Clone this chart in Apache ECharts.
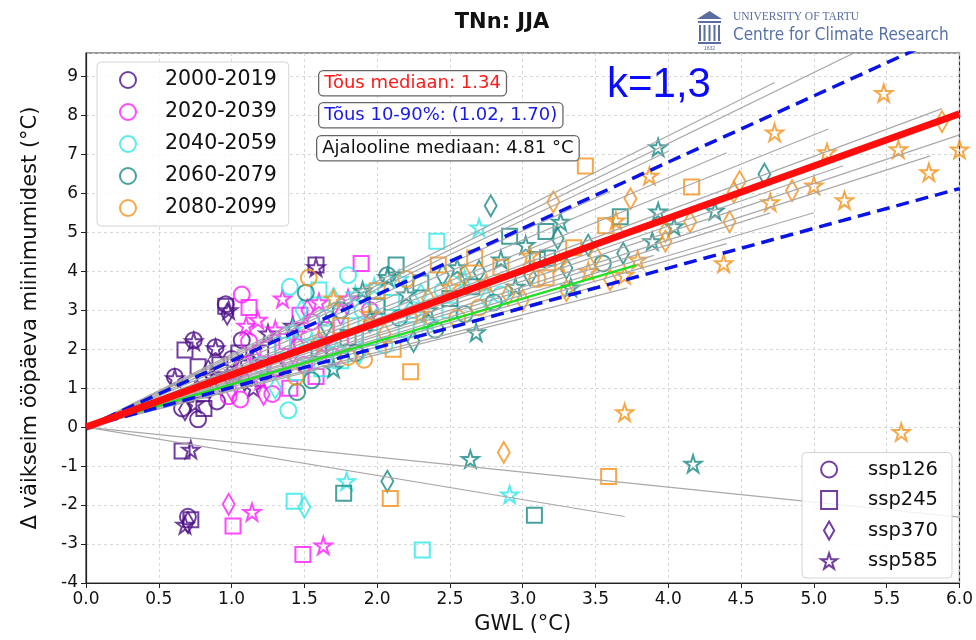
<!DOCTYPE html>
<html lang="et">
<head>
  <meta charset="UTF-8">
  <title>TNn: JJA</title>
  <style>
    html, body { margin: 0; padding: 0; background: #fff; }
    #chart { width: 976px; height: 640px; }
  </style>
</head>
<body>
  <div id="chart"></div>
</body>
<script src="https://cdn.jsdelivr.net/npm/echarts@6/dist/echarts.min.js"></script>
<script>
  // ---- data: [GWL, delta, sspIndex]  (0=ssp126, 1=ssp245, 2=ssp370, 3=ssp585)
  var periods = ['2000-2019', '2020-2039', '2040-2059', '2060-2079', '2080-2099']
  var periodColors = ['#4d0f88', '#ff1aff', '#2ee8e8', '#198a85', '#f4921c']
  var scenarios = ['ssp126', 'ssp245', 'ssp370', 'ssp585']

  var p2000 = [
    [0.61, 1.29, 0], [0.61, 1.25, 3], [0.66, 0.48, 0], [0.68, 0.45, 2], [0.68, 1.98, 1],
    [0.74, 2.23, 0], [0.74, 2.2, 3], [0.77, 0.2, 0], [0.75, 0.6, 3], [0.81, 0.48, 1],
    [0.8, 0.96, 1], [0.77, 1.55, 1], [0.82, 1.2, 0], [0.84, 1.45, 2], [0.86, 1.3, 3],
    [0.89, 2.05, 0], [0.89, 2.02, 3], [0.9, 0.66, 0], [0.92, 1.6, 1], [0.93, 1.1, 2],
    [0.96, 3.15, 0], [0.96, 3.1, 1], [0.97, 2.9, 2], [0.98, 3.0, 3], [1.0, 1.75, 0],
    [1.02, 1.4, 3], [1.05, 1.9, 1], [1.07, 2.23, 0], [1.09, 1.2, 2], [1.12, 1.65, 0],
    [1.15, 1.0, 3], [1.2, 1.9, 1], [1.25, 2.4, 3], [1.3, 1.5, 0], [1.58, 4.16, 1],
    [1.58, 4.1, 3], [1.42, 2.6, 3], [0.66, -0.61, 1], [0.72, -0.58, 3], [0.72, -2.38, 1],
    [0.7, -2.3, 0], [0.68, -2.51, 3], [0.7, -2.45, 2]
  ]
  var p2020 = [
    [0.98, 0.79, 0], [1.06, 0.71, 0], [1.07, 3.4, 0], [1.12, 3.07, 1], [1.0, 0.95, 2],
    [1.04, 1.3, 3], [1.08, 1.6, 1], [1.1, 2.6, 3], [1.12, 2.2, 0], [1.15, 1.8, 2],
    [1.18, 2.75, 3], [1.2, 1.2, 3], [1.22, 0.84, 2], [1.25, 2.0, 1], [1.28, 0.85, 0],
    [1.3, 2.5, 3], [1.32, 1.5, 0], [1.35, 3.3, 3], [1.38, 2.2, 1], [1.4, 1.0, 1],
    [1.42, 1.9, 2], [1.45, 2.4, 3], [1.47, 2.87, 1], [1.5, 1.6, 0], [1.52, 3.0, 2],
    [1.55, 2.7, 0], [1.58, 1.3, 1], [1.6, 3.2, 3], [1.62, 2.1, 3], [1.65, 2.5, 1],
    [1.7, 1.8, 0], [1.75, 2.9, 2], [1.8, 3.3, 3], [1.89, 4.2, 1], [1.85, 2.3, 1],
    [1.95, 3.0, 0], [0.98, -1.98, 2], [1.01, -2.54, 1], [1.14, -2.18, 3], [1.49, -3.27, 1],
    [1.63, -3.04, 3]
  ]
  var p2040 = [
    [1.2, 1.6, 0], [1.3, 1.0, 2], [1.35, 2.1, 1], [1.39, 0.43, 0], [1.4, 3.6, 0],
    [1.42, 2.5, 3], [1.45, 1.4, 1], [1.48, 3.0, 2], [1.5, 1.9, 0], [1.55, 2.2, 3],
    [1.6, 3.52, 1], [1.62, 1.5, 1], [1.65, 2.8, 0], [1.7, 3.3, 2], [1.72, 2.0, 3],
    [1.75, 1.7, 1], [1.8, 3.9, 0], [1.82, 2.6, 1], [1.85, 3.4, 3], [1.88, 1.9, 2],
    [1.9, 3.0, 0], [1.95, 2.3, 1], [1.98, 3.6, 3], [2.0, 2.8, 2], [2.05, 2.1, 0],
    [2.1, 3.2, 1], [2.15, 3.8, 3], [2.2, 2.5, 1], [2.25, 3.0, 0], [2.3, 3.4, 2],
    [2.35, 2.7, 3], [2.41, 4.77, 1], [2.45, 3.5, 0], [2.5, 3.0, 1], [2.6, 3.8, 3],
    [2.7, 5.12, 3], [2.75, 3.3, 2], [2.85, 3.4, 0], [1.43, -1.9, 1], [1.5, -2.05, 2],
    [1.79, -1.39, 3], [2.31, -3.15, 1], [2.91, -1.73, 3]
  ]
  var p2060 = [
    [1.45, 0.9, 0], [1.51, 3.45, 0], [1.55, 1.2, 0], [1.6, 2.0, 1], [1.65, 2.6, 2],
    [1.7, 1.5, 3], [1.75, 3.0, 0], [1.8, 2.3, 1], [1.85, 1.9, 0], [1.9, 3.5, 3],
    [1.95, 2.7, 2], [2.0, 3.1, 1], [2.07, 3.9, 0], [2.07, 3.85, 3], [2.13, 4.16, 1],
    [2.15, 2.8, 0], [2.2, 3.4, 3], [2.25, 2.2, 2], [2.3, 3.7, 1], [2.35, 3.0, 3],
    [2.4, 2.5, 0], [2.45, 3.9, 2], [2.5, 3.3, 1], [2.55, 4.1, 3], [2.6, 2.9, 0],
    [2.65, 3.6, 1], [2.68, 2.43, 3], [2.7, 4.0, 2], [2.78, 5.68, 2], [2.8, 3.2, 0],
    [2.85, 4.3, 3], [2.91, 4.9, 1], [2.95, 3.6, 3], [3.02, 4.67, 3], [3.05, 3.9, 2],
    [3.1, 4.3, 1], [3.16, 5.02, 1], [3.17, 4.34, 1], [3.24, 4.84, 2], [3.26, 5.27, 3],
    [3.3, 4.08, 2], [3.33, 3.58, 3], [3.45, 4.67, 2], [3.55, 4.2, 0], [3.67, 5.4, 1],
    [3.69, 4.46, 2], [3.89, 4.77, 3], [3.93, 5.53, 3], [3.93, 7.18, 3], [4.04, 5.15, 3],
    [4.32, 5.55, 3], [4.66, 6.49, 2], [2.64, -0.82, 3], [3.08, -2.26, 1], [4.17, -0.94, 3],
    [1.77, -1.7, 1], [2.07, -1.39, 2]
  ]
  var p2080 = [
    [1.44, 1.29, 0], [1.53, 3.83, 0], [1.6, 2.2, 2], [1.7, 3.3, 3], [1.75, 2.6, 1],
    [1.8, 1.8, 0], [1.91, 1.73, 0], [1.95, 2.9, 3], [2.0, 3.5, 1], [2.05, 2.4, 2],
    [2.11, 2.0, 1], [2.23, 1.42, 1], [2.2, 3.8, 0], [2.3, 2.9, 3], [2.35, 3.3, 2],
    [2.42, 4.16, 1], [2.5, 3.6, 3], [2.55, 2.8, 0], [2.6, 3.9, 2], [2.67, 4.34, 1],
    [2.7, 3.07, 0], [2.75, 3.7, 3], [2.85, 4.1, 1], [2.9, 3.4, 2], [3.0, 3.25, 2],
    [3.05, 4.4, 3], [3.1, 3.8, 0], [3.16, 3.83, 1], [3.21, 5.78, 2], [3.25, 4.2, 3],
    [3.3, 3.5, 2], [3.35, 4.6, 1], [3.43, 6.7, 1], [3.45, 4.0, 3], [3.5, 4.4, 2],
    [3.57, 5.17, 1], [3.6, 3.78, 2], [3.64, 5.3, 3], [3.7, 3.9, 3], [3.74, 5.86, 2],
    [3.79, 4.29, 3], [3.87, 6.45, 3], [3.98, 4.77, 2], [3.98, 5.02, 2], [4.15, 5.27, 2],
    [4.16, 6.16, 1], [4.38, 4.2, 3], [4.42, 5.27, 2], [4.45, 6.03, 2], [4.49, 6.3, 2],
    [4.7, 5.77, 3], [4.73, 7.56, 3], [4.85, 6.07, 2], [5.0, 6.2, 3], [5.09, 7.05, 3],
    [5.21, 5.82, 3], [5.48, 8.57, 3], [5.58, 7.13, 3], [5.79, 6.54, 3], [5.88, 7.84, 2],
    [6.0, 7.12, 3], [3.7, 0.38, 3], [5.6, -0.13, 3], [2.87, -0.65, 2], [3.59, -1.27, 1],
    [2.09, -1.83, 1]
  ]
  var periodData = [p2000, p2020, p2040, p2060, p2080]

  // model regression lines through origin: [slope, GWL end]
  var modelLines = [
    [1.87, 4.73], [1.82, 5.5], [1.77, 4.0], [1.68, 3.6], [1.6, 4.4], [1.5, 5.1],
    [1.45, 3.3], [1.39, 5.88], [1.35, 4.2], [1.29, 5.2], [1.25, 6.0], [1.2, 5.8],
    [1.17, 4.7], [1.13, 3.9], [1.1, 5.0], [1.07, 4.4], [1.03, 3.5], [0.96, 3.72],
    [0.93, 3.0], [-0.385, 6.0], [-0.62, 3.7]
  ]
  var medianSlope = 1.34
  var p10Slope = 1.02
  var p90Slope = 1.70
  var histSlope = [1.1, 3.78]  // green line: slope, GWL end
  var histMedian = 4.81

  var xTicks = { min: 0, max: 6, step: 0.5 }
  var yTicks = { min: -4, max: 9.6, step: 1 }

  // ---- markers
  var starPath = 'path://M50,2 L61,36 L97,36 L68,57 L79,92 L50,71 L21,92 L32,57 L3,36 L39,36 Z'
  var diamondPath = 'path://M6,0 L12,10.5 L6,21 L0,10.5 Z'
  var shapes = ['circle', 'rect', 'diamond', starPath]
  var sizes = [16, 15, [12, 21], 17]
  var fontFam = 'DejaVu Sans'

  function lineData(slope, xEnd) {
    return [[0, 0], [xEnd, slope * xEnd]]
  }

  var series = []
  periodData.forEach(function (d, i) {
    series.push({
      name: periods[i],
      type: 'scatter',
      data: d,
      symbol: function (v) { return shapes[v[2]] },
      symbolSize: function (v) { return sizes[v[2]] },
      itemStyle: { color: 'rgba(255,255,255,0)', borderColor: periodColors[i], borderWidth: 2 },
      emphasis: { disabled: true },
      z: 2
    })
  })
  // legend-only series for scenarios
  scenarios.forEach(function (s, i) {
    series.push({
      name: s, type: 'scatter', data: [],
      symbol: shapes[i],
      itemStyle: { color: 'rgba(255,255,255,0)', borderColor: periodColors[0], borderWidth: 2 }
    })
  })
  modelLines.forEach(function (m, i) {
    series.push({
      name: 'mudel' + i, type: 'line', data: lineData(m[0], m[1]),
      showSymbol: false, silent: true, z: 3,
      lineStyle: { color: '#a9a9a9', width: 1.2 }
    })
  })
  series.push({
    name: 'ajalooline', type: 'line', data: lineData(histSlope[0], histSlope[1]),
    showSymbol: false, silent: true, z: 4,
    lineStyle: { color: '#22e022', width: 2.2 }
  })
  ;[p10Slope, p90Slope].forEach(function (s, i) {
    series.push({
      name: 'p' + i, type: 'line', data: lineData(s, xTicks.max),
      showSymbol: false, silent: true, z: 5,
      lineStyle: { color: '#0a14e6', width: 3.5, type: [13, 7] }
    })
  })
  series.push({
    name: 'mediaan', type: 'line', data: lineData(medianSlope, xTicks.max),
    showSymbol: false, silent: true, z: 6,
    lineStyle: { color: '#ff0d0d', width: 7 }
  })

  var myChart = echarts.init(document.getElementById('chart'), null, { renderer: 'canvas' })

  var boxText = { fontFamily: fontFam, fontSize: 18, backgroundColor: '#fff', borderColor: '#666',
    borderWidth: 1.3, borderRadius: 4, padding: [3, 5, 3, 5] }

  var option = {
    animation: false,
    textStyle: { fontFamily: fontFam },
    title: {
      text: 'TNn: JJA', left: 497, top: 7, textAlign: 'center',
      textStyle: { fontFamily: fontFam, fontSize: 21, fontWeight: 'bold', color: '#111' }
    },
    grid: { left: 86, right: 14, top: 53, bottom: 52, show: true, borderColor: '#333', borderWidth: 1.2 },
    xAxis: {
      type: 'value', min: xTicks.min, max: xTicks.max, interval: xTicks.step,
      name: 'GWL (°C)', nameLocation: 'middle', nameGap: 31,
      nameTextStyle: { fontSize: 21, color: '#111', fontFamily: fontFam },
      axisLine: { onZero: false, lineStyle: { color: '#222', width: 1.2 } },
      axisTick: { show: true, length: 5, lineStyle: { color: '#222' } },
      axisLabel: { fontSize: 17, color: '#111', margin: 8, formatter: function (v) { return v.toFixed(1) } },
      splitLine: { lineStyle: { color: '#cfcfcf', width: 0.8, type: [3, 3] } }
    },
    yAxis: {
      type: 'value', min: yTicks.min, max: yTicks.max, interval: yTicks.step,
      name: 'Δ väikseim ööpäeva miinimumidest (°C)', nameLocation: 'middle', nameGap: 45,
      nameTextStyle: { fontSize: 21, color: '#111', fontFamily: fontFam },
      axisLine: { onZero: false, lineStyle: { color: '#222', width: 1.2 } },
      axisTick: { show: true, length: 5, lineStyle: { color: '#222' } },
      axisLabel: { fontSize: 17, color: '#111', margin: 8, showMaxLabel: false,
        formatter: function (v) { return Number.isInteger(v) ? String(v) : '' } },
      splitLine: { lineStyle: { color: '#cfcfcf', width: 0.8, type: [3, 3] } }
    },
    legend: [
      {
        orient: 'vertical', left: 97, top: 62, itemWidth: 16, itemHeight: 16, itemGap: 10,
        padding: [7, 12, 7, 22], backgroundColor: 'rgba(255,255,255,0.85)',
        borderColor: '#d4d4d4', borderWidth: 1, borderRadius: 4, selectedMode: false,
        textStyle: { fontSize: 20.5, color: '#111', lineHeight: 22, padding: [0, 0, 0, 24] },
        data: periods.map(function (p, i) {
          return { name: p, icon: 'circle',
            itemStyle: { color: 'rgba(255,255,255,0)', borderColor: periodColors[i], borderWidth: 2 } }
        })
      },
      {
        orient: 'vertical', right: 24, bottom: 62, itemWidth: 16, itemHeight: 18, itemGap: 8.5,
        padding: [6, 14, 6, 18], backgroundColor: 'rgba(255,255,255,0.85)',
        borderColor: '#d4d4d4', borderWidth: 1, borderRadius: 4, selectedMode: false,
        textStyle: { fontSize: 19.5, color: '#111', lineHeight: 22, padding: [0, 0, 0, 26] },
        data: scenarios.map(function (s, i) {
          return { name: s, icon: i === 2 ? diamondPath : shapes[i],
            itemStyle: { color: 'rgba(255,255,255,0)', borderColor: periodColors[0], borderWidth: 2 } }
        })
      }
    ],
    graphic: [
      { type: 'text', left: 318, top: 70, z: 20,
        style: Object.assign({ text: 'Tõus mediaan: ' + medianSlope.toFixed(2), fill: '#ff1a1a' }, boxText) },
      { type: 'text', left: 318, top: 102, z: 20,
        style: Object.assign({ text: 'Tõus 10-90%: (' + p10Slope.toFixed(2) + ', ' + p90Slope.toFixed(2) + ')', fill: '#1a1ae6' }, boxText) },
      { type: 'text', left: 316, top: 135, z: 20,
        style: Object.assign({ text: 'Ajalooline mediaan: ' + histMedian.toFixed(2) + ' °C', fill: '#111' }, boxText) },
      { type: 'text', left: 607, top: 64, z: 20,
        style: { text: 'k=1,3', fill: '#0a0aff', fontFamily: 'Liberation Sans', fontSize: 42 } },
      // logo
      { type: 'group', left: 697, top: 11, z: 20, children: [
        { type: 'polygon', shape: { points: [[0, 8], [12.5, 0], [25, 8]] }, style: { fill: '#5b6d9e' } },
        { type: 'rect', shape: { x: 1, y: 10, width: 23, height: 2 }, style: { fill: '#5b6d9e' } },
        { type: 'rect', shape: { x: 2, y: 14, width: 2, height: 16 }, style: { fill: '#5b6d9e' } },
        { type: 'rect', shape: { x: 6.5, y: 14, width: 2, height: 16 }, style: { fill: '#5b6d9e' } },
        { type: 'rect', shape: { x: 11.5, y: 14, width: 2, height: 16 }, style: { fill: '#5b6d9e' } },
        { type: 'rect', shape: { x: 16.5, y: 14, width: 2, height: 16 }, style: { fill: '#5b6d9e' } },
        { type: 'rect', shape: { x: 21, y: 14, width: 2, height: 16 }, style: { fill: '#5b6d9e' } },
        { type: 'rect', shape: { x: 1, y: 31, width: 23, height: 2 }, style: { fill: '#5b6d9e' } },
        { type: 'text', x: 12.5, y: 35, style: { text: '1632', fontSize: 5, fill: '#5b6d9e', align: 'center' } },
        { type: 'text', x: 36, y: 0, style: { text: 'UNIVERSITY OF TARTU', fontSize: 11.5, fontFamily: 'Liberation Serif', fill: '#5b6d9e' } },
        { type: 'text', x: 36, y: 16, style: { text: 'Centre for Climate Research', fontSize: 17, fontFamily: 'DejaVu Sans Condensed', fill: '#5872a6' } }
      ] }
    ],
    series: series
  }
  myChart.setOption(option)
</script>
</html>
